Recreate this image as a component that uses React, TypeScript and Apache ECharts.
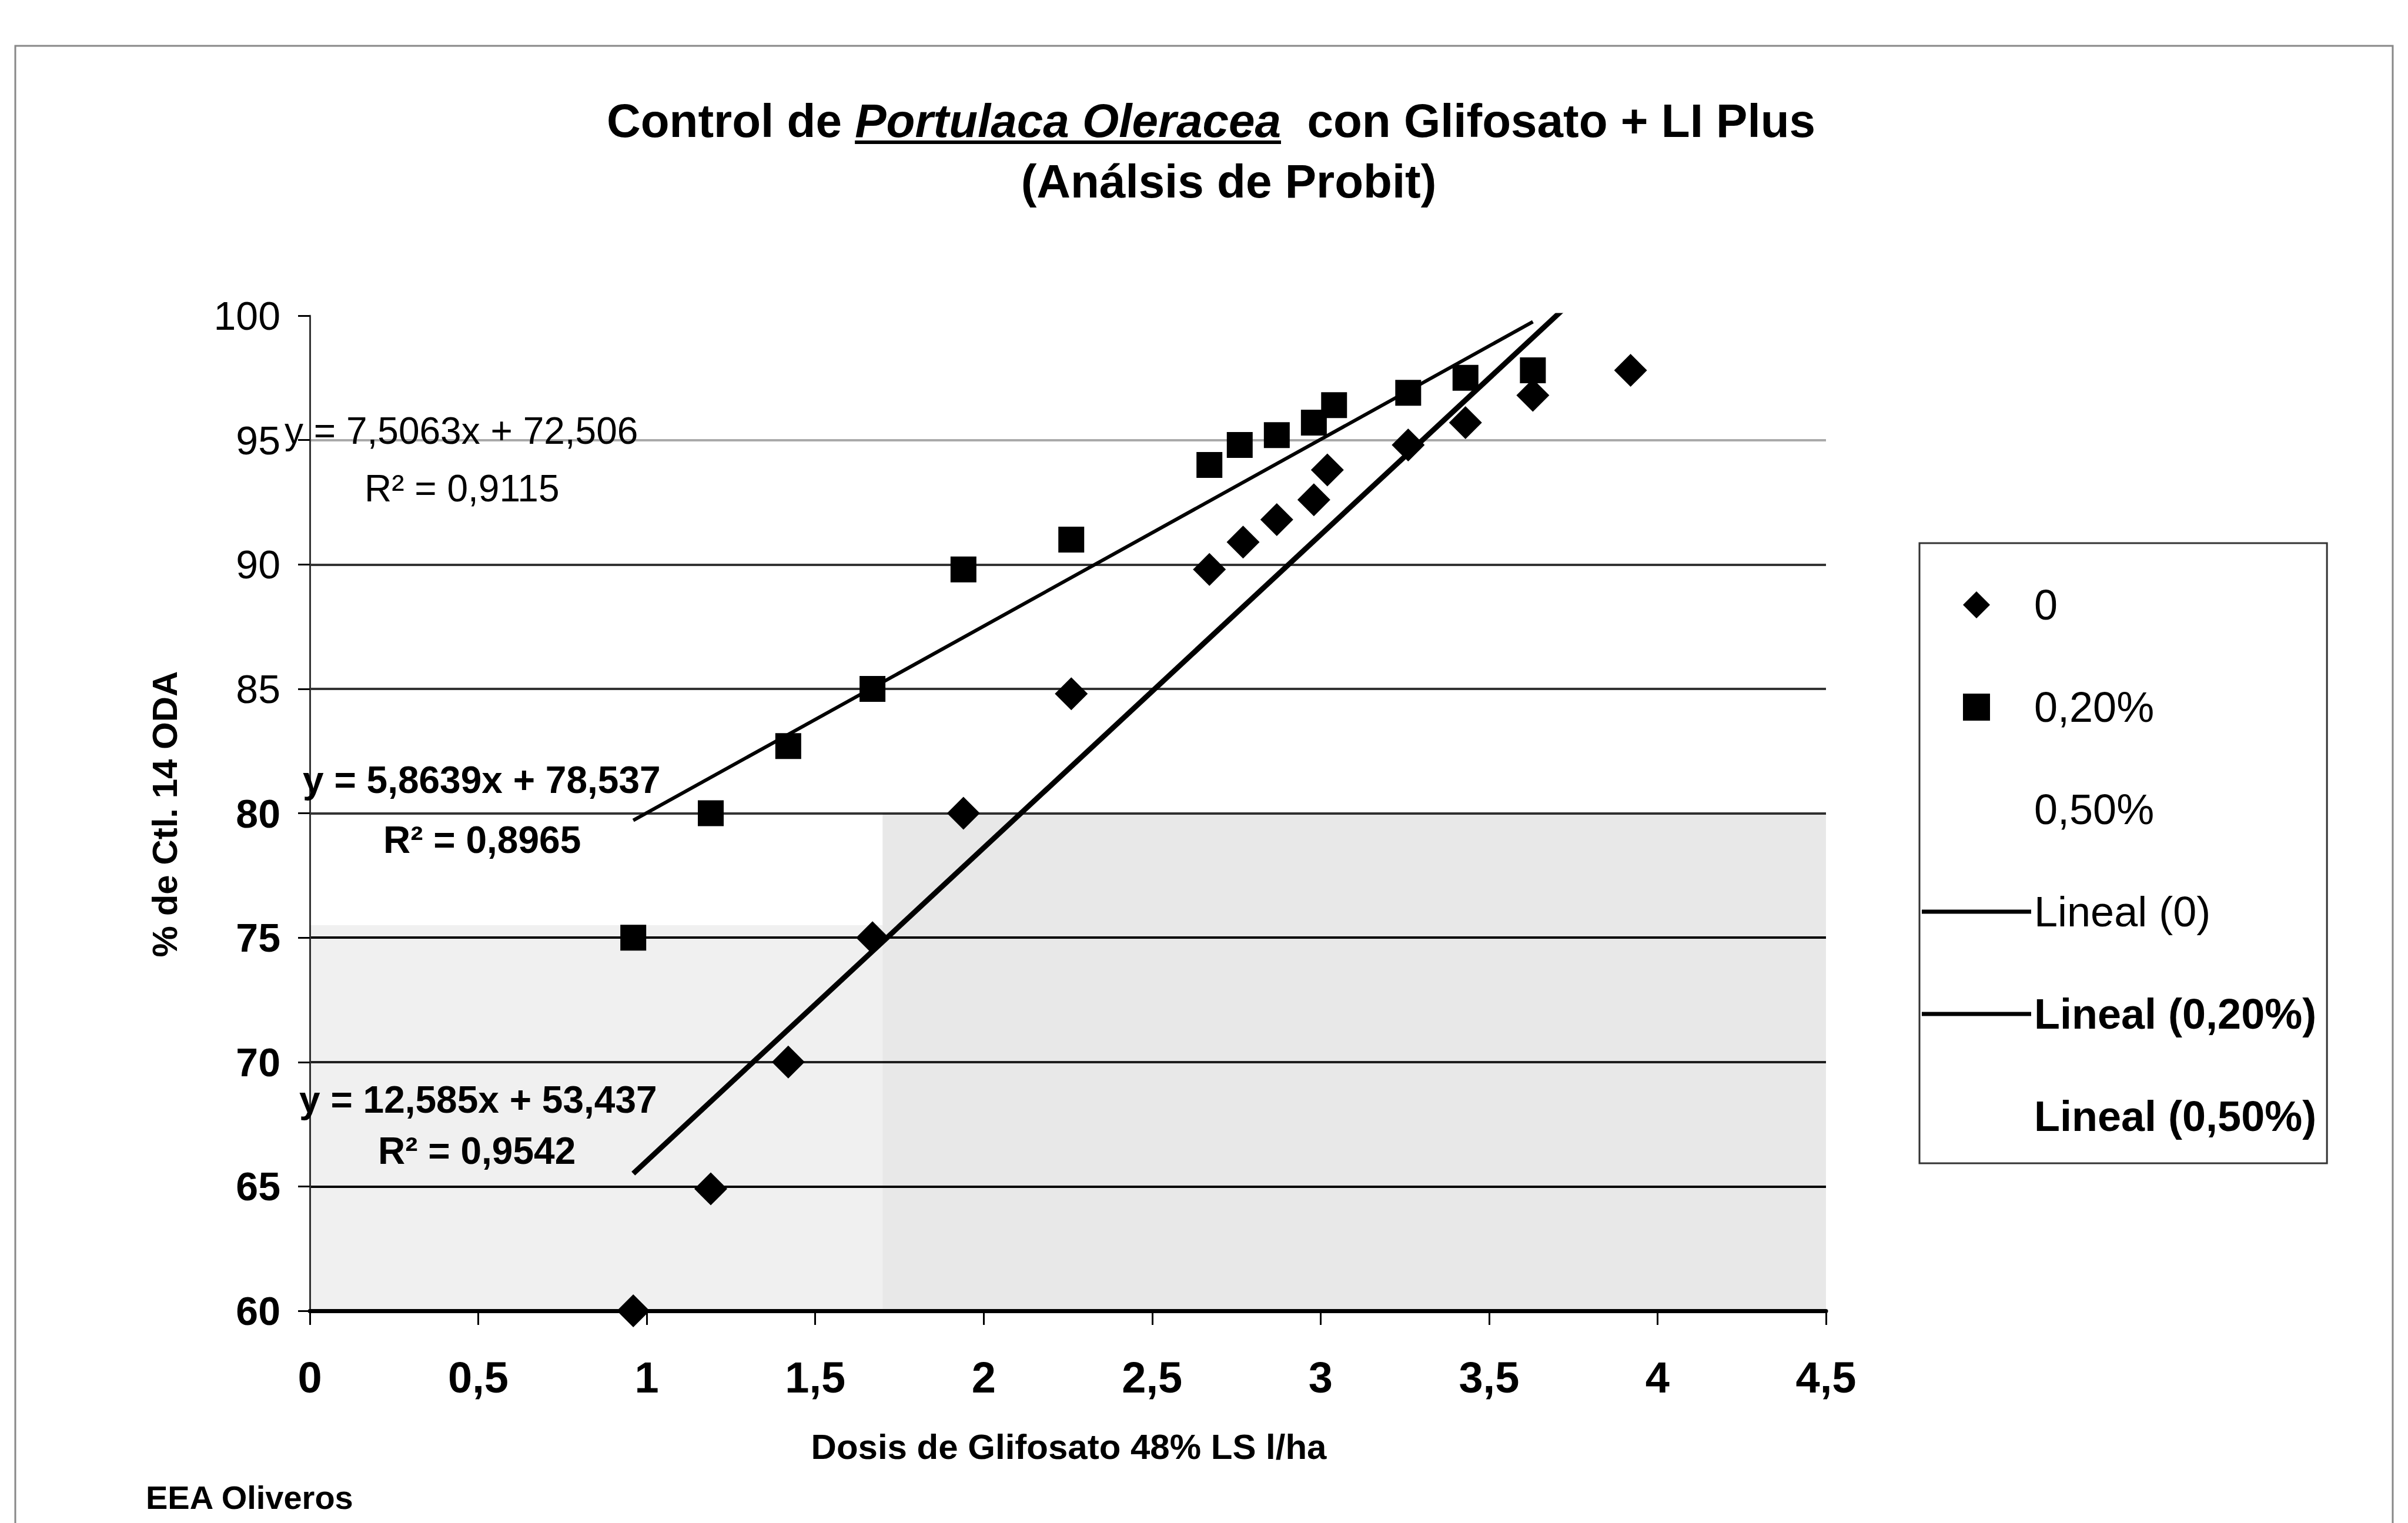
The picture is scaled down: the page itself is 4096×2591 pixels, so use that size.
import React, { useEffect, useRef } from "react";
import * as echarts from "echarts";

// ---- data ----
const dose0 = [0.96, 1.19, 1.42, 1.67, 1.94, 2.26, 2.67, 2.77, 2.87, 2.98, 3.02, 3.26, 3.43, 3.63, 3.92];
const ctl0 = [60, 64.9, 70, 75, 80, 84.8, 89.8, 90.9, 91.8, 92.6, 93.8, 94.8, 95.7, 96.8, 97.8];

const dose020 = [0.96, 1.19, 1.42, 1.67, 1.94, 2.26, 2.67, 2.76, 2.87, 2.98, 3.04, 3.26, 3.43, 3.63];
const ctl020 = [75, 80, 82.7, 85, 89.8, 91, 94, 94.8, 95.2, 95.7, 96.4, 96.9, 97.5, 97.8];

const dose050: number[] = [];
const ctl050: number[] = [];

const seriesNames = ["0", "0,20%", "0,50%"];
const trendNames = ["Lineal (0)", "Lineal (0,20%)", "Lineal (0,50%)"];

const trend0 = { slope: 12.585, intercept: 53.437, eq: "y = 12,585x + 53,437", r2: "R² = 0,9542" };
const trend020 = { slope: 7.5063, intercept: 72.506, eq: "y = 7,5063x + 72,506", r2: "R² = 0,9115" };
const trend050 = { slope: 5.8639, intercept: 78.537, eq: "y = 5,8639x + 78,537", r2: "R² = 0,8965" };

const xMin = 0, xMax = 4.5, xStep = 0.5;
const yMin = 60, yMax = 100, yStep = 5;

const titleA = "Control de ";
const titleB = "Portulaca Oleracea";
const titleC = "  con Glifosato + LI Plus";
const titleLine2 = "(Análsis de Probit)";
const yTitle = "% de Ctl. 14 ODA";
const xTitle = "Dosis de Glifosato 48% LS l/ha";
const footer = "EEA Oliveros";

const FF = '"Liberation Sans", Arial, sans-serif';

const ICON_DIAMOND = "path://M0,-1L1,0L0,1L-1,0Z";
const ICON_SQUARE = "path://M0,0H1V1H0Z";
const ICON_LINE = "path://M0,0H186V7H0Z";

function pairs(xs: number[], ys: number[]) {
  return xs.map((x, i) => [x, ys[i]]);
}
function trendLine(xs: number[], t: { slope: number; intercept: number }) {
  if (!xs.length) return [];
  const lo = Math.min(...xs), hi = Math.max(...xs);
  return [
    [lo, t.slope * lo + t.intercept],
    [hi, t.slope * hi + t.intercept],
  ];
}

export default function App() {
  const ref = useRef<HTMLDivElement>(null);
  useEffect(() => {
    if (!ref.current) return;
    const chart = echarts.init(ref.current, undefined, { renderer: "svg" });

    const ctx = document.createElement("canvas").getContext("2d")!;
    ctx.font = `bold 80px ${FF}`;
    const wA = ctx.measureText(titleA).width;
    const wC = ctx.measureText(titleC).width;
    ctx.font = `italic bold 80px ${FF}`;
    const wB = ctx.measureText(titleB).width;
    const tcx = 2060;
    const tStart = tcx - (wA + wB + wC) / 2;
    const t1y = 205;

    const txt = (text: string, x: number, y: number, font: string, extra: any = {}) => ({
      type: "text",
      x,
      y,
      z: 50,
      silent: true,
      ...extra,
      style: { text, font, fill: "#000", align: "left", verticalAlign: "middle", ...(extra.style || {}) },
    });

    const option: any = {
      animation: false,
      backgroundColor: "#fff",
      textStyle: { fontFamily: FF },
      grid: { left: 527, top: 537, width: 2579, height: 1693, containLabel: false },
      xAxis: {
        type: "value",
        min: xMin,
        max: xMax,
        interval: xStep,
        axisLine: { show: true, onZero: false, lineStyle: { color: "#000", width: 7 } },
        axisTick: { show: true, length: 24, lineStyle: { color: "#000", width: 3 } },
        axisLabel: {
          margin: 76,
          fontSize: 74,
          fontWeight: "bold",
          color: "#000",
          fontFamily: FF,
          formatter: (v: number) => String(v).replace(".", ","),
        },
        splitLine: { show: false },
      },
      yAxis: {
        type: "value",
        min: yMin,
        max: yMax,
        interval: yStep,
        axisLine: { show: true, onZero: false, lineStyle: { color: "#333", width: 3 } },
        axisTick: { show: true, length: 20, lineStyle: { color: "#000", width: 3 } },
        axisLabel: {
          margin: 50,
          color: "#000",
          fontFamily: FF,
          formatter: (v: number) => (v >= 85 ? `{r|${v}}` : `{b|${v}}`),
          rich: {
            r: { fontSize: 68, fontWeight: "normal", fontFamily: FF, color: "#000" },
            b: { fontSize: 68, fontWeight: "bold", fontFamily: FF, color: "#000" },
          },
        },
        splitLine: {
          show: true,
          lineStyle: {
            width: 4,
            color: ["#000", "#000", "#222", "#000", "#333", "#333", "#333", "#aaa", "rgba(0,0,0,0)"],
          },
        },
      },
      legend: {
        show: true,
        orient: "vertical",
        left: 3265,
        top: 924,
        padding: [65, 18, 40, 4],
        itemWidth: 186,
        itemHeight: 46,
        itemGap: 94,
        symbolKeepAspect: true,
        borderColor: "#333",
        borderWidth: 3,
        selectedMode: false,
        textStyle: { fontSize: 72, lineHeight: 80, color: "#000", fontFamily: FF },
        data: [
          { name: seriesNames[0], icon: ICON_DIAMOND, textStyle: { fontWeight: "normal" } },
          { name: seriesNames[1], icon: ICON_SQUARE, textStyle: { fontWeight: "normal" } },
          { name: seriesNames[2], icon: ICON_SQUARE, textStyle: { fontWeight: "normal" } },
          { name: trendNames[0], icon: ICON_LINE, textStyle: { fontWeight: "normal" } },
          { name: trendNames[1], icon: ICON_LINE, textStyle: { fontWeight: "bold" } },
          { name: trendNames[2], icon: ICON_LINE, textStyle: { fontWeight: "bold" } },
        ],
      },
      series: [
        {
          name: trendNames[0],
          type: "line",
          data: trendLine(dose0, trend0),
          symbol: "none",
          showSymbol: false,
          clip: true,
          z: 3,
          lineStyle: { color: "#000", width: 9, opacity: 1 },
          itemStyle: { color: "#000", opacity: 1 },
        },
        {
          name: trendNames[1],
          type: "line",
          data: trendLine(dose020, trend020),
          symbol: "none",
          showSymbol: false,
          clip: true,
          z: 3,
          lineStyle: { color: "#000", width: 6, opacity: 1 },
          itemStyle: { color: "#000", opacity: 1 },
        },
        {
          name: trendNames[2],
          type: "line",
          data: trendLine(dose050, trend050),
          symbol: "none",
          showSymbol: false,
          clip: true,
          z: 3,
          lineStyle: { color: "rgba(0,0,0,0)", width: 6 },
          itemStyle: { color: "rgba(0,0,0,0)" },
        },
        {
          name: seriesNames[0],
          type: "scatter",
          data: pairs(dose0, ctl0),
          symbol: "diamond",
          symbolSize: 56,
          z: 5,
          itemStyle: { color: "#000", opacity: 1 },
          markArea: {
            silent: true,
            z: 1,
            itemStyle: { color: "rgba(0,0,0,0.06)" },
            data: [
              [{ coord: [0, 60] }, { coord: [1.7, 75.5] }],
              [{ coord: [1.7, 60], itemStyle: { color: "rgba(0,0,0,0.09)" } }, { coord: [4.5, 80] }],
            ],
          },
        },
        {
          name: seriesNames[1],
          type: "scatter",
          data: pairs(dose020, ctl020),
          symbol: "rect",
          symbolSize: 44,
          z: 5,
          itemStyle: { color: "#000", opacity: 1 },
        },
        {
          name: seriesNames[2],
          type: "scatter",
          data: pairs(dose050, ctl050),
          symbol: "rect",
          symbolSize: 44,
          z: 5,
          itemStyle: { color: "rgba(0,0,0,0)" },
        },
      ],
      graphic: [
        {
          type: "rect",
          silent: true,
          z: 1,
          shape: { x: 26, y: 78, width: 4044, height: 2600 },
          style: { fill: "none", stroke: "#888", lineWidth: 3 },
        },
        txt(titleA, tStart, t1y, `bold 80px ${FF}`),
        txt(titleB, tStart + wA, t1y, `italic bold 80px ${FF}`),
        txt(titleC, tStart + wA + wB, t1y, `bold 80px ${FF}`),
        {
          type: "line",
          silent: true,
          z: 50,
          shape: { x1: tStart + wA, y1: 242, x2: tStart + wA + wB, y2: 242 },
          style: { stroke: "#000", lineWidth: 6 },
        },
        txt(titleLine2, 2090, 308, `bold 80px ${FF}`, { style: { align: "center" } }),
        txt(yTitle, 280, 1385, `bold 60px ${FF}`, { rotation: Math.PI / 2, style: { align: "center" } }),
        txt(xTitle, 1818, 2461, `bold 60px ${FF}`, { style: { align: "center" } }),
        txt(footer, 248, 2547, `bold 56px ${FF}`),
        txt(trend020.eq, 484, 733, `64px ${FF}`),
        txt(trend020.r2, 620, 831, `64px ${FF}`),
        txt(trend050.eq, 515, 1327, `bold 64px ${FF}`),
        txt(trend050.r2, 652, 1429, `bold 64px ${FF}`),
        txt(trend0.eq, 509, 1871, `bold 64px ${FF}`),
        txt(trend0.r2, 643, 1958, `bold 64px ${FF}`),
      ],
    };
    chart.setOption(option);
    return () => chart.dispose();
  }, []);
  return (
    <div
      ref={ref}
      style={{ position: "fixed", left: 0, top: 0, width: 4096, height: 2591, background: "#fff" }}
    />
  );
}
